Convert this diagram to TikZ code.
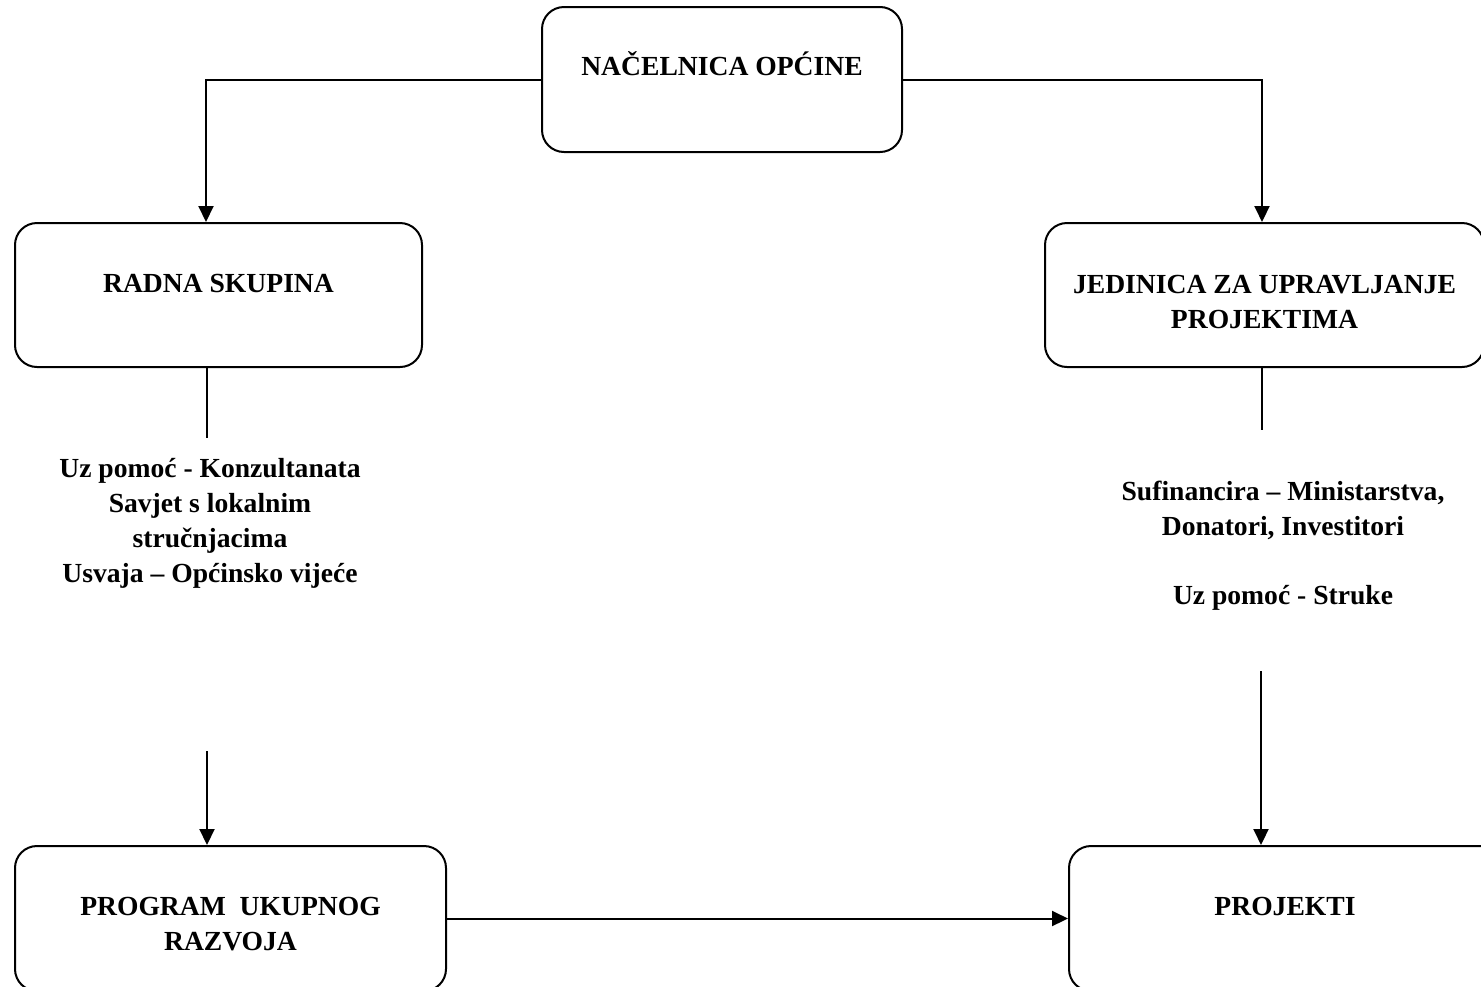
\documentclass[tikz,border=0pt]{standalone}
\usepackage{fontspec}
\setmainfont{Liberation Serif}
\usetikzlibrary{arrows.meta,positioning}

\begin{document}
\begin{tikzpicture}[x=0.5pt,y=-0.5pt,>={Triangle[width=7.5pt,length=8pt]},
    line width=1pt,
    font=\fontsize{13.8}{17.5}\selectfont\bfseries,
    orgbox/.style={draw,rounded corners=11pt,inner xsep=0pt,inner ysep=0pt,align=center,anchor=base},
    notetext/.style={align=center,inner sep=0pt}]
    \useasboundingbox (0,0) rectangle (1481,986);
    \node[orgbox,minimum width=180pt,text height=34pt,text depth=38.5pt] (nac) at (722,75) {NAČELNICA OPĆINE};
    \node[orgbox,minimum width=203.5pt,text height=34.5pt,text depth=37.5pt] (rad) at (218.5,292) {RADNA SKUPINA};
    \node[orgbox,minimum width=219.5pt,text height=52.5pt,text depth=19.5pt] (jed) at (1264.5,328) {JEDINICA ZA UPRAVLJANJE\\PROJEKTIMA};
    \node[orgbox,minimum width=215.5pt,text height=52pt,text depth=20.5pt] (prog) at (230.5,950) {PROGRAM\ \ UKUPNOG\\RAZVOJA};
    \node[orgbox,minimum width=216pt,text height=34.5pt,text depth=38pt] (proj) at (1285,915) {PROJEKTI};
    \node[notetext] (radnote) at (210,523.5) {Uz pomoć - Konzultanata\\Savjet s lokalnim\\stručnjacima\\Usvaja – Općinsko vijeće};
    \node[notetext] (jednote) at (1283,546) {Sufinancira – Ministarstva,\\Donatori, Investitori\\[17pt]Uz pomoć - Struke};
    \coordinate (radcut) at (207,438);
    \coordinate (radlow) at (207,751);
    \coordinate (jedcut) at (1262,430);
    \coordinate (jedlow) at (1261,671);
    \draw[->] (nac.west) -| ([xshift=-6.25pt]rad.north);
    \draw[->] (nac.east) -| ([xshift=-1.25pt]jed.north);
    \draw (radcut |- rad.south) -- (radcut);
    \draw[->] (radlow) -- (radlow |- prog.north);
    \draw (jedcut |- jed.south) -- (jedcut);
    \draw[->] (jedlow) -- (jedlow |- proj.north);
    \draw[->] (prog.east) -- (proj.west);
\end{tikzpicture}
\end{document}
